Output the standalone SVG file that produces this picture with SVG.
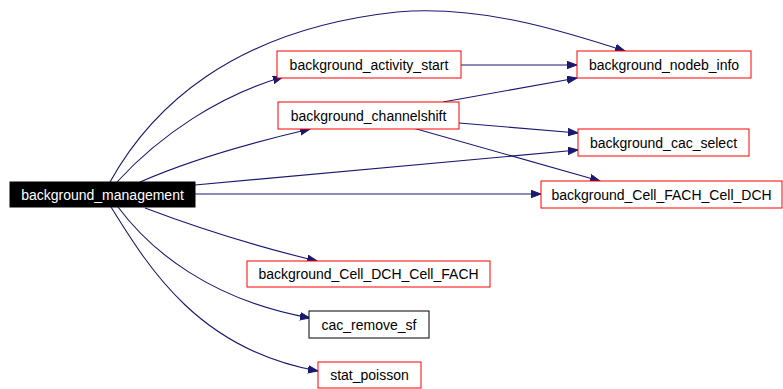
<svg xmlns="http://www.w3.org/2000/svg" width="783" height="389" viewBox="0 0 783 389">
<style>
.n rect{fill:#ffffff;stroke:#ff0000;stroke-width:1}
.n.b rect{stroke:#000000}
.n.root rect{fill:#000000;stroke:#000000}
.n text{font-family:"Liberation Sans",Arial,sans-serif;font-size:14px;fill:#000000;text-anchor:middle;dominant-baseline:central}
.n.root text{fill:#ffffff}
.e path{fill:none;stroke:#191970;stroke-width:1.1;marker-end:url(#ah)}
</style>
<defs>
<marker id="ah" markerUnits="userSpaceOnUse" markerWidth="12" markerHeight="10" refX="10" refY="4" orient="auto" viewBox="0 0 12 10">
<path d="M0,0.3 L10,4 L0,7.7 Z" fill="#191970" stroke="#191970" stroke-width="1"/>
</marker>
</defs>
<g id="edges" class="e">
<path d="M110,182 C150,110 230,30 397,12 C480,5 560,30 625,51"/>
<path d="M117,182 C160,135 220,95 283,77"/>
<path d="M140,182 C190,160 250,143 310,129"/>
<path d="M195,185 L578,150"/>
<path d="M195,194 L541,194"/>
<path d="M145,208 C190,225 250,245 317,261"/>
<path d="M118,207 C150,250 210,300 310,318"/>
<path d="M111,207 C150,270 200,350 318,371"/>
<path d="M461,65 L577,65"/>
<path d="M443,102 L577,78"/>
<path d="M459,123 L578,133"/>
<path d="M413,128 L600,181"/>
</g>
<g id="background_management" class="n root"><rect x="10" y="182" width="185" height="25"/><text x="102.5" y="194.5">background_management</text></g>
<g id="background_activity_start" class="n"><rect x="277" y="51" width="184" height="27"/><text x="369" y="64.5">background_activity_start</text></g>
<g id="background_channelshift" class="n"><rect x="278" y="102" width="181" height="27"/><text x="368.5" y="115.5">background_channelshift</text></g>
<g id="background_nodeb_info" class="n"><rect x="577" y="51" width="174" height="27"/><text x="664" y="64.5">background_nodeb_info</text></g>
<g id="background_cac_select" class="n"><rect x="578" y="129" width="171" height="27"/><text x="663.5" y="142.5">background_cac_select</text></g>
<g id="background_Cell_FACH_Cell_DCH" class="n"><rect x="541" y="181" width="241" height="27"/><text x="661.5" y="194.5">background_Cell_FACH_Cell_DCH</text></g>
<g id="background_Cell_DCH_Cell_FACH" class="n"><rect x="247" y="261" width="243" height="26"/><text x="368.5" y="274">background_Cell_DCH_Cell_FACH</text></g>
<g id="cac_remove_sf" class="n b"><rect x="309" y="311" width="120" height="27"/><text x="369" y="324.5">cac_remove_sf</text></g>
<g id="stat_poisson" class="n"><rect x="318" y="362" width="103" height="26"/><text x="369.5" y="375">stat_poisson</text></g>
</svg>
